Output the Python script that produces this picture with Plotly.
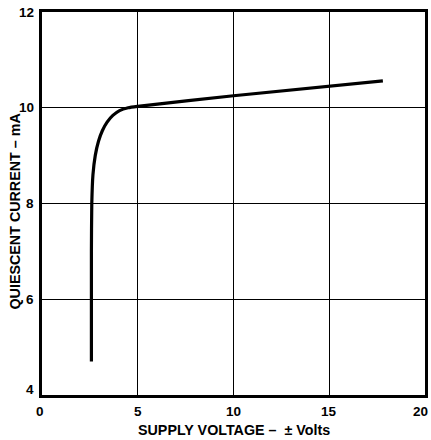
import plotly.graph_objects as go

supply_voltage = [2.58, 2.58, 2.6, 2.66, 2.78, 2.95, 3.15, 3.4, 3.7, 4.05, 4.5, 5.0, 10.0, 17.8]
quiescent_current = [4.7, 7.0, 8.0, 8.6, 9.0, 9.3, 9.52, 9.7, 9.84, 9.94, 10.0, 10.03, 10.25, 10.56]

x_ticks = [0, 5, 10, 15, 20]
y_ticks = [4, 6, 8, 10, 12]

font = "Liberation Sans, Arial, sans-serif"
tick_font = dict(family=font, size=13.5, color="black", weight="bold")
title_font = dict(family=font, size=14.3, color="black", weight="bold")

fig = go.Figure()
fig.add_trace(go.Scatter(
    x=supply_voltage, y=quiescent_current, mode="lines",
    line=dict(color="black", width=3.2, shape="spline", smoothing=0.6),
    showlegend=False, hoverinfo="skip"))

axis_common = dict(
    showgrid=True, gridcolor="black", gridwidth=1.3,
    showline=True, linecolor="black", linewidth=3, mirror=True,
    zeroline=False, ticks="", automargin=False, showticklabels=False,
)

fig.update_layout(
    width=431, height=440,
    margin=dict(l=42, r=6, t=12, b=45),
    paper_bgcolor="white", plot_bgcolor="white",
    xaxis=dict(range=[0, 20], tickvals=x_ticks, **axis_common),
    yaxis=dict(range=[4, 12], tickvals=y_ticks, **axis_common),
)

for v in x_ticks:
    fig.add_annotation(x=v, y=0, xref="x", yref="paper", yanchor="middle", yshift=-16,
                       xshift=-5 if v == 20 else (-2 if v == 0 else 0),
                       text=str(v), showarrow=False, font=tick_font)

for v in y_ticks:
    fig.add_annotation(x=0, y=v, xref="paper", yref="y", xanchor="right", yanchor="middle",
                       xshift=-6, yshift=6 if v == 4 else 0,
                       text=str(v), showarrow=False, font=tick_font)

fig.add_annotation(x=0, y=0.5, xref="paper", yref="paper", xanchor="center", yshift=-8,
                   xshift=-28, text="QUIESCENT CURRENT – mA", showarrow=False, textangle=-90,
                   font=title_font)
fig.add_annotation(x=0.5, y=0, xref="paper", yref="paper", yanchor="middle", yshift=-35,
                   text="SUPPLY VOLTAGE –  ± Volts", showarrow=False, font=title_font)

fig.write_html("out.html", config={"displayModeBar": False},
               post_script="document.body.style.margin='0';document.body.style.overflow='hidden';")
